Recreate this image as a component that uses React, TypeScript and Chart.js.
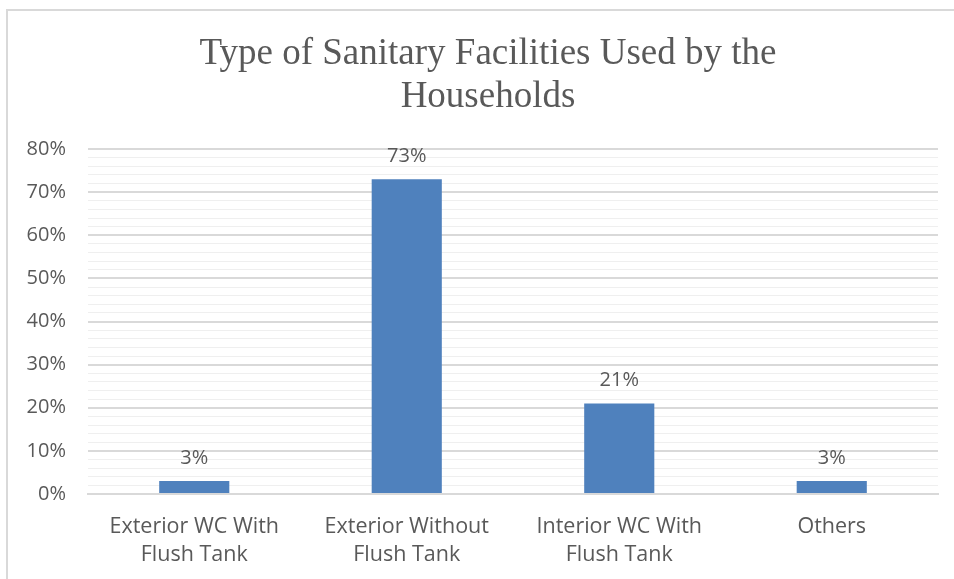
import React, { useEffect, useRef } from "react";
import { Chart, registerables } from "chart.js";

Chart.register(...registerables);

const categories: string[][] = [
  ["Exterior WC With", "Flush Tank"],
  ["Exterior Without", "Flush Tank"],
  ["Interior WC With", "Flush Tank"],
  ["Others"],
];
const values: number[] = [3, 73, 21, 3];
const valueLabels: string[] = ["3%", "73%", "21%", "3%"];
const titleLines: string[] = ["Type of Sanitary Facilities Used by the", "Households"];
const yMax = 80;

const TEXT = "#595959";
const SANS = "'Open Sans', 'Liberation Sans', sans-serif";
const SERIF = "'Liberation Serif', 'Times New Roman', serif";

const dataLabelPlugin = {
  id: "dataLabels",
  afterDatasetsDraw(chart: any) {
    const ctx = chart.ctx;
    const meta = chart.getDatasetMeta(0);
    ctx.save();
    ctx.font = `20px ${SANS}`;
    ctx.fillStyle = TEXT;
    ctx.textAlign = "center";
    ctx.textBaseline = "middle";
    meta.data.forEach((bar: any, i: number) => {
      ctx.fillText(valueLabels[i], bar.x, bar.y - 23);
    });
    ctx.restore();
  },
};

const titlePlugin = {
  id: "customTitle",
  afterDraw(chart: any) {
    const ctx = chart.ctx;
    ctx.save();
    ctx.font = `37px ${SERIF}`;
    ctx.fillStyle = TEXT;
    ctx.textAlign = "center";
    ctx.textBaseline = "alphabetic";
    titleLines.forEach((line, i) => {
      ctx.fillText(line, 488, 64 + i * 43);
    });
    ctx.restore();
  },
};

export default function App() {
  const ref = useRef<HTMLCanvasElement>(null);
  useEffect(() => {
    if (!ref.current) return;
    const chart = new Chart(ref.current, {
      type: "bar",
      data: {
        labels: categories,
        datasets: [
          {
            data: values,
            backgroundColor: "#4F81BD",
            barPercentage: 0.33,
            categoryPercentage: 1,
          },
        ],
      },
      options: {
        responsive: false,
        animation: false,
        layout: { padding: { left: 0, right: 16, top: 149, bottom: 0 } },
        plugins: {
          legend: { display: false },
          tooltip: { enabled: false },
          title: { display: false },
        },
        scales: {
          x: {
            grid: { display: false, drawTicks: false },
            border: { display: true, color: "#d9d9d9", width: 2 },
            ticks: {
              color: TEXT,
              font: { family: SANS, size: 21.5, lineHeight: 1.3 },
              padding: 19,
              maxRotation: 0,
              autoSkip: false,
            },
            afterFit(scale: any) {
              scale.height = 85;
            },
          },
          y: {
            min: 0,
            max: yMax,
            grid: {
              drawTicks: false,
              color: (c: any) => (c.tick && c.tick.value % 10 === 0 ? "#d9d9d9" : "#efefef"),
              lineWidth: (c: any) => (c.tick && c.tick.value % 10 === 0 ? 2 : 1),
            },
            border: { display: false },
            ticks: {
              stepSize: 2,
              autoSkip: false,
              color: TEXT,
              padding: 22,
              font: { family: SANS, size: 20 },
              callback: (v: any) => (Number(v) % 10 === 0 ? `${v}%` : ""),
            },
            afterFit(scale: any) {
              scale.width = 88;
            },
          },
        },
      },
      plugins: [dataLabelPlugin, titlePlugin],
    });
    return () => chart.destroy();
  }, []);
  return (
    <div style={{ position: "fixed", left: 0, top: 0, width: 954, height: 579, background: "#fff", overflow: "hidden" }}>
      <div
        style={{
          position: "absolute",
          left: 6,
          top: 9,
          width: 1000,
          height: 600,
          borderLeft: "2px solid #d9d9d9",
          borderTop: "2px solid #d9d9d9",
        }}
      />
      <canvas ref={ref} width={954} height={579} style={{ position: "absolute", left: 0, top: 0 }} />
    </div>
  );
}
